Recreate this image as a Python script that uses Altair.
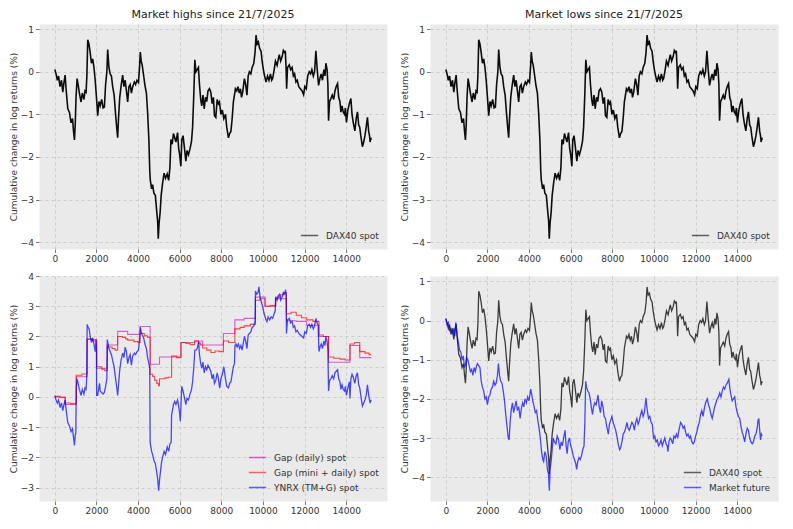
import altair as alt
import pandas as pd

# ---------------- data ----------------
DAX_X = [0, 60, 120, 180, 250, 320, 383, 440, 495, 540, 623, 700, 780, 850, 900, 943, 980, 1020, 1070, 1120,
         1180, 1262, 1320, 1400, 1450, 1502, 1540, 1582, 1640, 1700, 1760, 1820, 1880, 1940, 2000, 2061, 2120, 2180, 2250, 2320,
         2381, 2440, 2500, 2541, 2600, 2660, 2720, 2780, 2850, 2920, 2980, 3020, 3060, 3120, 3180, 3260, 3320, 3380, 3440, 3500,
         3560, 3620, 3680, 3740, 3820, 3880, 3950, 4020, 4070, 4107, 4150, 4200, 4270, 4330, 4400, 4458, 4520, 4560, 4586, 4650,
         4700, 4760, 4830, 4900, 4940, 4970, 5010, 5060, 5110, 5177, 5250, 5320, 5400, 5470, 5530, 5578, 5640, 5700, 5760, 5820,
         5897, 5950, 6000, 6057, 6100, 6160, 6220, 6296, 6350, 6420, 6500, 6568, 6620, 6680, 6727, 6780, 6840, 6900, 6950, 7010,
         7060, 7120, 7176, 7240, 7300, 7360, 7431, 7495, 7560, 7620, 7670, 7735, 7800, 7860, 7910, 7980, 8050, 8120, 8200, 8260,
         8341, 8400, 8460, 8519, 8580, 8630, 8677, 8740, 8800, 8860, 8920, 8970, 9027, 9108, 9170, 9230, 9290, 9348, 9420, 9480,
         9560, 9620, 9669, 9720, 9780, 9840, 9909, 9960, 10020, 10080, 10149, 10220, 10290, 10360, 10420, 10465, 10540, 10600, 10680, 10740,
         10786, 10850, 10920, 10980, 11040, 11074, 11110, 11138, 11180, 11266, 11330, 11400, 11460, 11520, 11586, 11650, 11720, 11800, 11880, 11953,
         12010, 12080, 12150, 12224, 12290, 12350, 12420, 12480, 12544, 12600, 12672, 12740, 12800, 12860, 12930, 12980, 13025, 13080, 13120, 13152,
         13200, 13264, 13330, 13400, 13460, 13520, 13585, 13640, 13700, 13744, 13800, 13860, 13920, 13960, 14013, 14080, 14150, 14224, 14280, 14340,
         14416, 14480, 14540, 14600, 14650, 14700, 14780, 14840, 14900, 14960, 15020, 15080, 15120, 15149, 15180, 15200]
DAX_Y = [0.05, -0.05, -0.2, -0.1, -0.35, -0.2, -0.48, -0.25, -0.08, -0.4, -0.87, -0.95, -1.2, -1.1, -1.4, -1.6, -1.25, -0.6, -0.16, -0.3,
         -0.5, -0.71, -0.5, -0.65, -0.45, -0.48, -0.1, 0.75, 0.65, 0.45, 0.2, 0.3, 0.1, -0.2, -0.6, -1.03, -0.7, -0.8, -0.65, -0.85,
         -0.83, -0.3, 0.0, 0.52, 0.1, -0.05, -0.1, -0.35, -0.55, -1.0, -1.35, -1.55, -1.1, -0.6, -0.35, -0.08, -0.35, -0.2, -0.45, -0.71,
         -0.35, -0.3, -0.5, -0.35, -0.24, -0.3, -0.2, -0.25, 0.1, 0.46, 0.25, 0.15, -0.1, -0.32, -0.5, -0.95, -1.6, -2.3, -2.54, -2.75,
         -2.65, -2.85, -2.9, -3.3, -3.5, -3.92, -3.55, -3.3, -2.9, -2.62, -2.38, -2.5, -2.4, -2.55, -2.25, -1.59, -1.7, -1.45, -1.55, -1.65,
         -1.43, -1.8, -1.95, -2.22, -1.6, -1.5, -1.75, -2.1, -1.85, -1.95, -1.8, -1.63, -1.3, -0.5, 0.28, 0.0, 0.05, 0.1, -0.3, -0.65,
         -0.8, -0.55, -0.87, -0.6, -0.7, -0.45, -0.4, -0.48, -0.75, -0.6, -1.03, -1.07, -0.65, -0.75, -0.71, -1.0, -0.9, -1.1, -1.0, -1.3,
         -1.55, -1.45, -1.4, -1.11, -0.7, -0.55, -0.4, -0.45, -0.35, -0.5, -0.4, -0.6, -0.48, -0.16, -0.3, -0.55, -0.1, 0.0, -0.05, 0.1,
         0.2, 0.45, 0.86, 0.65, 0.7, 0.55, 0.48, 0.25, 0.05, -0.1, -0.24, -0.1, -0.2, -0.05, -0.2, -0.16, 0.05, 0.25, 0.15, 0.3,
         0.4, 0.25, 0.35, 0.5, 0.45, 0.49, 0.1, -0.4, 0.1, 0.16, 0.05, 0.1, -0.1, -0.05, -0.24, -0.2, -0.35, -0.4, -0.45, -0.54,
         -0.35, -0.4, -0.1, 0.0, -0.05, 0.05, -0.1, 0.0, 0.49, 0.1, -0.32, -0.15, -0.05, -0.2, 0.05, -0.1, 0.2, 0.05, -0.3, -1.15,
         -0.7, -0.63, -0.55, -0.65, -0.45, -0.35, -0.28, -0.6, -0.7, -0.95, -0.8, -0.95, -1.0, -0.85, -1.19, -0.9, -0.75, -0.63, -1.0, -1.2,
         -1.39, -1.1, -0.94, -1.25, -1.3, -1.5, -1.76, -1.65, -1.5, -1.3, -1.07, -1.4, -1.5, -1.65, -1.55, -1.6]

MF_X = [0, 60, 120, 180, 250, 320, 380, 430, 480, 540, 600, 660, 720, 780, 840, 900, 950, 1000, 1060, 1120,
        1180, 1240, 1300, 1360, 1420, 1480, 1520, 1580, 1640, 1700, 1760, 1820, 1880, 1940, 2000, 2060, 2120, 2180, 2240, 2300,
        2360, 2420, 2480, 2528, 2580, 2640, 2700, 2760, 2820, 2880, 2940, 3000, 3040, 3090, 3140, 3200, 3260, 3320, 3380, 3440,
        3500, 3570, 3630, 3690, 3750, 3810, 3870, 3930, 3990, 4040, 4080, 4130, 4180, 4240, 4300, 4360, 4420, 4480, 4540, 4600,
        4660, 4700, 4760, 4820, 4880, 4930, 4976, 5010, 5060, 5110, 5160, 5220, 5290, 5350, 5420, 5480, 5540, 5600, 5660, 5728,
        5780, 5830, 5880, 5940, 6000, 6060, 6120, 6180, 6240, 6288, 6340, 6400, 6460, 6520, 6580, 6640, 6680, 6720, 6760, 6820,
        6880, 6940, 7000, 7050, 7100, 7160, 7220, 7280, 7312, 7370, 7430, 7490, 7550, 7610, 7670, 7730, 7808, 7860, 7920, 7980,
        8040, 8100, 8160, 8220, 8280, 8352, 8400, 8460, 8520, 8580, 8640, 8700, 8760, 8820, 8880, 8940, 9000, 9060, 9120, 9180,
        9240, 9300, 9360, 9420, 9480, 9540, 9616, 9680, 9740, 9800, 9860, 9920, 9980, 10040, 10100, 10160, 10220, 10280, 10340, 10400,
        10460, 10520, 10580, 10640, 10672, 10720, 10780, 10840, 10900, 10960, 11020, 11080, 11140, 11200, 11280, 11340, 11400, 11460, 11520, 11580,
        11640, 11700, 11760, 11820, 11880, 11940, 12000, 12060, 12120, 12180, 12240, 12300, 12360, 12420, 12480, 12560, 12620, 12680, 12740, 12800,
        12860, 12920, 12980, 13040, 13100, 13160, 13220, 13280, 13340, 13400, 13460, 13520, 13560, 13600, 13650, 13700, 13760, 13820, 13880, 13940,
        14000, 14060, 14120, 14180, 14240, 14300, 14360, 14420, 14480, 14540, 14600, 14660, 14720, 14780, 14840, 14900, 14960, 15000, 15040, 15080,
        15120, 15160, 15200]
MF_Y = [0.05, -0.1, -0.05, -0.25, -0.2, -0.35, -0.2, -0.4, -0.05, -0.35, -0.55, -0.75, -0.8, -1.0, -0.9, -1.2, -1.1, -0.95, -1.0, -1.15,
        -1.3, -1.25, -1.4, -1.2, -1.3, -1.15, -1.1, -1.15, -1.2, -1.55, -1.7, -1.8, -2.0, -1.95, -2.15, -1.95, -1.9, -1.75, -1.7, -1.55,
        -1.65, -1.6, -1.4, -1.1, -1.4, -1.55, -1.6, -1.8, -2.05, -2.4, -2.7, -3.0, -3.05, -2.6, -2.3, -2.1, -2.35, -2.2, -2.05, -2.3,
        -2.2, -2.5, -2.25, -2.1, -2.2, -2.0, -2.1, -1.95, -2.05, -1.9, -1.75, -1.9, -2.05, -2.2, -2.35, -2.3, -2.55, -2.75, -3.0, -3.35,
        -3.55, -3.6, -3.35, -3.45, -3.8, -3.9, -4.35, -3.8, -3.6, -3.3, -3.0, -3.1, -3.15, -2.95, -3.05, -3.3, -3.1, -3.2, -3.0, -2.8,
        -3.2, -3.4, -3.1, -3.0, -3.2, -3.3, -3.45, -3.55, -3.65, -3.8, -3.6, -3.5, -3.55, -3.45, -3.3, -3.2, -2.6, -1.55, -1.7, -1.8,
        -1.85, -2.0, -2.25, -2.4, -2.2, -2.1, -2.15, -2.0, -1.9, -2.2, -2.35, -2.05, -2.2, -2.45, -2.5, -2.7, -2.9, -2.65, -2.55, -2.45,
        -2.6, -2.7, -2.8, -2.95, -3.15, -3.3, -3.25, -3.1, -2.9, -2.85, -2.75, -2.6, -2.75, -2.8, -2.7, -2.6, -2.65, -2.8, -2.6, -2.5,
        -2.65, -2.55, -2.4, -2.3, -2.45, -2.35, -1.97, -2.3, -2.5, -2.45, -2.6, -2.65, -3.0, -2.95, -3.1, -3.05, -3.2, -3.15, -3.05, -3.2,
        -3.1, -3.0, -3.15, -3.2, -3.35, -3.1, -3.0, -3.05, -3.15, -2.95, -3.0, -2.9, -3.0, -2.8, -2.6, -2.65, -2.75, -2.7, -2.85, -2.95,
        -2.9, -3.0, -2.95, -3.1, -3.15, -3.1, -2.95, -2.85, -2.7, -2.6, -2.4, -2.3, -2.45, -2.25, -2.1, -2.0, -2.15, -2.25, -2.4, -2.5,
        -2.35, -2.2, -2.1, -2.0, -1.95, -1.85, -1.95, -1.8, -1.7, -1.75, -1.65, -1.6, -1.55, -1.5, -1.75, -1.9, -2.05, -2.0, -1.95, -2.2,
        -2.35, -2.45, -2.5, -2.7, -2.85, -2.95, -3.1, -2.9, -2.75, -2.8, -3.0, -3.1, -3.15, -3.1, -2.95, -2.9, -2.75, -2.55, -2.5, -2.8,
        -3.05, -2.9, -2.95]

YN_X = [0, 60, 120, 180, 250, 320, 383, 440, 495, 540, 623, 700, 780, 850, 900, 943, 980, 1010, 1030, 1070,
        1120, 1180, 1262, 1320, 1400, 1450, 1502, 1530, 1555, 1600, 1650, 1700, 1760, 1820, 1880, 1940, 1980, 2000, 2010, 2061,
        2120, 2150, 2180, 2250, 2320, 2381, 2440, 2500, 2520, 2560, 2600, 2660, 2720, 2780, 2850, 2920, 2980, 3020, 3060, 3120,
        3180, 3260, 3320, 3380, 3440, 3500, 3560, 3620, 3680, 3740, 3820, 3880, 3950, 4020, 4070, 4107, 4150, 4200, 4270, 4330,
        4400, 4458, 4520, 4560, 4580, 4650, 4700, 4760, 4830, 4900, 4940, 4990, 5030, 5080, 5130, 5177, 5250, 5320, 5400, 5470,
        5530, 5590, 5610, 5650, 5700, 5760, 5820, 5897, 5950, 6000, 6030, 6060, 6100, 6160, 6220, 6296, 6350, 6420, 6500, 6568,
        6620, 6680, 6727, 6780, 6840, 6912, 6950, 7010, 7060, 7120, 7176, 7240, 7300, 7360, 7431, 7495, 7560, 7620, 7670, 7735,
        7800, 7860, 7920, 7980, 8050, 8120, 8200, 8260, 8341, 8400, 8460, 8519, 8580, 8630, 8656, 8700, 8760, 8820, 8880, 8940,
        9000, 9060, 9108, 9170, 9230, 9290, 9348, 9420, 9480, 9560, 9620, 9640, 9700, 9760, 9808, 9860, 9920, 9980, 10040, 10100,
        10149, 10192, 10250, 10320, 10400, 10465, 10540, 10590, 10610, 10680, 10740, 10800, 10850, 10920, 10980, 11040, 11088, 11110, 11130, 11180,
        11266, 11330, 11400, 11460, 11520, 11586, 11650, 11720, 11800, 11880, 11953, 12010, 12080, 12150, 12224, 12290, 12350, 12420, 12480, 12544,
        12600, 12650, 12690, 12740, 12800, 12860, 12930, 12980, 13025, 13080, 13120, 13152, 13200, 13264, 13330, 13400, 13460, 13520, 13585, 13640,
        13700, 13744, 13800, 13860, 13920, 13960, 14013, 14080, 14150, 14180, 14224, 14280, 14340, 14416, 14480, 14540, 14600, 14650, 14700, 14780,
        14840, 14900, 14960, 15020, 15080, 15120, 15149, 15180, 15200]
YN_Y = [0.05, -0.1, -0.2, -0.1, -0.35, -0.2, -0.45, -0.25, -0.1, -0.4, -0.85, -0.95, -1.15, -1.05, -1.35, -1.6, -1.25, -1.2, 0.3, 0.6,
        0.45, 0.25, 0.05, 0.25, 0.1, 0.3, 0.25, 0.6, 2.4, 2.3, 2.25, 2.0, 1.8, 1.95, 1.75, 1.5, 1.9, 1.5, 0.05, 0.05,
        0.35, 0.45, 0.2, 0.15, 0.1, 0.15, 0.35, 0.6, 1.9, 1.75, 1.6, 1.5, 1.4, 1.2, 1.0, 0.6, 0.3, 0.05, 0.4, 0.9,
        1.2, 1.45, 1.3, 1.65, 1.5, 1.1, 1.3, 1.4, 1.05, 1.35, 1.45, 1.4, 1.5, 1.55, 1.9, 2.3, 2.15, 2.05, 1.95, 1.75,
        1.6, 1.3, 1.1, 0.95, -1.5, -1.8, -1.9, -2.1, -2.2, -2.5, -2.7, -3.1, -2.75, -2.45, -2.15, -2.0, -1.8, -1.9, -1.65, -1.8,
        -1.55, -1.5, -0.6, -0.45, -0.25, -0.15, -0.25, -0.1, -0.3, -0.55, -0.8, -0.3, 0.35, 0.2, 0.0, -0.25, -0.05, -0.1, 0.1, 0.25,
        0.5, 1.0, 1.55, 1.55, 1.6, 1.83, 1.4, 1.1, 0.95, 1.15, 0.8, 1.0, 0.9, 1.05, 0.95, 0.85, 0.6, 0.75, 0.45, 0.55,
        0.8, 0.6, 0.29, 0.6, 0.75, 1.0, 0.6, 0.35, 0.3, 0.45, 0.5, 0.75, 1.0, 1.1, 1.7, 1.75, 1.65, 1.75, 1.6, 1.7,
        1.55, 1.8, 2.0, 1.85, 1.6, 2.05, 2.1, 2.15, 2.3, 2.35, 2.5, 3.5, 3.4, 3.45, 3.64, 3.3, 3.15, 3.0, 2.8, 2.65,
        2.55, 2.49, 2.65, 2.55, 2.65, 2.6, 2.75, 2.85, 3.3, 3.2, 3.35, 3.4, 3.2, 3.3, 3.45, 3.4, 3.55, 3.3, 2.1, 2.55,
        2.6, 2.45, 2.5, 2.3, 2.35, 2.15, 2.2, 2.1, 2.05, 2.0, 1.95, 2.15, 2.1, 2.35, 2.4, 2.3, 2.4, 2.25, 2.35, 2.6,
        2.45, 2.4, 1.5, 1.65, 1.75, 1.6, 1.85, 1.7, 2.0, 1.85, 1.55, 0.2, 0.55, 0.6, 0.7, 0.6, 0.8, 0.85, 0.9, 0.6,
        0.5, 0.25, 0.4, 0.25, 0.2, 0.35, 0.05, 0.3, 0.5, -0.05, 0.6, 0.75, 0.65, 0.45, 0.7, 0.8, 0.4, 0.3, 0.05, -0.3,
        -0.2, -0.1, 0.05, 0.4, 0.05, -0.1, -0.2, -0.1, -0.15]

GAPD_X = [0, 500, 1030, 1555, 2010, 2520, 3020, 3500, 4100, 4580, 5030, 5610, 6060, 6720, 7100, 8100, 8650, 9100, 9640,
          10100, 10610, 11130, 11600, 12100, 12690, 13150, 14180, 14650, 15200]
GAPD_Y = [0.0, -0.25, 0.67, 1.9, 0.95, 1.72, 2.17, 2.07, 2.33, 1.08, 1.32, 1.32, 1.8, 1.85, 1.72, 2.1, 2.55, 2.6, 3.3,
          3.0, 3.25, 2.52, 2.5, 2.37, 2.0, 1.15, 1.7, 1.3, 1.3]

GAPM_X = [0, 250, 500, 750, 1030, 1300, 1555, 1800, 2010, 2250, 2400, 2520, 2750, 2900, 3020, 3250, 3400, 3500, 3800, 4000,
          4100, 4300, 4450, 4580, 4700, 4800, 4900, 4980, 5030, 5300, 5450, 5610, 5850, 6060, 6300, 6500, 6720, 6900, 7000, 7100,
          7300, 7500, 7700, 7900, 8100, 8350, 8650, 8900, 9100, 9400, 9640, 9850, 10100, 10350, 10610, 10850, 11000, 11130, 11350, 11600,
          11850, 12100, 12400, 12690, 12900, 13150, 13400, 13700, 13950, 14180, 14400, 14650, 14900, 15100, 15200]
GAPM_Y = [0.02, -0.02, -0.2, -0.22, 0.72, 0.76, 1.92, 1.85, 1.0, 0.92, 0.87, 1.65, 1.6, 1.55, 2.0, 1.97, 1.92, 1.88, 1.83, 1.8,
          2.1, 2.02, 1.97, 0.75, 0.68, 0.55, 0.45, 0.37, 0.6, 0.63, 0.65, 1.35, 1.3, 1.8, 1.77, 1.73, 1.85, 1.78, 1.72, 1.62,
          1.55, 1.47, 1.52, 1.5, 1.85, 1.8, 2.25, 2.3, 2.35, 2.4, 3.2, 3.25, 3.0, 3.02, 3.3, 3.38, 3.45, 2.75, 2.8, 2.7,
          2.62, 2.55, 2.5, 2.05, 2.0, 1.32, 1.28, 1.25, 1.22, 1.75, 1.8, 1.5, 1.45, 1.4, 1.4]

X_TICKS = [0, 2000, 4000, 6000, 8000, 10000, 12000, 14000]
Y_TICKS_TOP = [-4, -3, -2, -1, 0, 1]
Y_TICKS_BL = [-3, -2, -1, 0, 1, 2, 3, 4]
Y_TICKS_BR = [-4, -3, -2, -1, 0, 1]

YTITLE = "Cumulative change in log returns (%)"
W, H = 348, 225


def frame(xs, ys, name):
    return pd.DataFrame({"x": xs, "y": ys, "series": name})


def enc_x():
    return alt.X("x:Q", scale=alt.Scale(domain=[-760, 15960], nice=False, zero=False),
                 axis=alt.Axis(values=X_TICKS, format="d", title=None))


def enc_y(dom, ticks):
    return alt.Y("y:Q", scale=alt.Scale(domain=dom, nice=False, zero=False),
                 axis=alt.Axis(values=ticks, format="d", title=YTITLE))


def enc_color(domain, rng):
    return alt.Color("series:N", sort=domain,
                     scale=alt.Scale(domain=domain, range=rng),
                     legend=alt.Legend(orient="bottom-right", title=None, symbolOpacity=0.6))


def top_panel(title):
    d = frame(DAX_X, DAX_Y, "DAX40 spot")
    return alt.Chart(d, title=title).mark_line(strokeWidth=1.6, opacity=0.95).encode(
        x=enc_x(), y=enc_y([-4.16, 1.12], Y_TICKS_TOP),
        color=enc_color(["DAX40 spot"], ["#000000"]),
    ).properties(width=W, height=H)


tl = top_panel("Market highs since 21/7/2025")
tr = top_panel("Market lows since 21/7/2025")

bl_dom = ["Gap (daily) spot", "Gap (mini + daily) spot", "YNRX (TM+G) spot"]
bl_rng = ["#bf00bf", "#ff0000", "#0000ff"]
bl_y = enc_y([-3.44, 4.0], Y_TICKS_BL)
bl_purple = alt.Chart(frame(GAPD_X, GAPD_Y, bl_dom[0])).mark_line(
    interpolate="step-after", strokeWidth=1.1, opacity=0.6).encode(
    x=enc_x(), y=bl_y, color=enc_color(bl_dom, bl_rng))
bl_red = alt.Chart(frame(GAPM_X, GAPM_Y, bl_dom[1])).mark_line(
    interpolate="step-after", strokeWidth=1.1, opacity=0.7).encode(
    x=enc_x(), y=bl_y, color=enc_color(bl_dom, bl_rng))
bl_blue = alt.Chart(frame(YN_X, YN_Y, bl_dom[2])).mark_line(
    strokeWidth=1.3, opacity=0.7).encode(
    x=enc_x(), y=bl_y, color=enc_color(bl_dom, bl_rng))
bl = alt.layer(bl_purple, bl_red, bl_blue).properties(width=W, height=H)

br_dom = ["DAX40 spot", "Market future"]
br_rng = ["#000000", "#0000ff"]
br_y = enc_y([-4.61, 1.14], Y_TICKS_BR)
br_black = alt.Chart(frame(DAX_X, DAX_Y, br_dom[0])).mark_line(
    strokeWidth=1.3, opacity=0.75).encode(
    x=enc_x(), y=br_y, color=enc_color(br_dom, br_rng))
br_blue = alt.Chart(frame(MF_X, MF_Y, br_dom[1])).mark_line(
    strokeWidth=1.3, opacity=0.7).encode(
    x=enc_x(), y=br_y, color=enc_color(br_dom, br_rng))
br = alt.layer(br_black, br_blue).properties(width=W, height=H)

chart = alt.concat(
    tl, tr, bl, br, columns=2, spacing={"row": 27, "column": 43}, bounds="flush"
).resolve_scale(
    color="independent"
).properties(
    padding=0, background="white"
).configure(
    font="DejaVu Sans"
).configure_view(
    fill="#eaeaea", stroke="transparent"
).configure_axis(
    grid=True, gridDash=[3, 3], gridColor="#c4c4c4", gridWidth=0.8,
    domain=False, tickColor="#555555", tickSize=3.5, tickWidth=0.8,
    labelFontSize=9, labelColor="#333333", labelFont="DejaVu Sans", labelPadding=2,
    titleFontSize=9, titleFontWeight="normal", titleColor="#333333", titleFont="DejaVu Sans",
    titlePadding=2,
).configure_title(
    fontSize=11, fontWeight="normal", font="DejaVu Sans", color="#222222", offset=4
).configure_legend(
    labelFontSize=9, labelFont="DejaVu Sans", labelColor="#333333",
    symbolType="stroke", symbolSize=300, symbolStrokeWidth=1.5,
    rowPadding=-4, padding=0, offset=8, labelOffset=7,
)

chart.save("out.html", embed_options={"renderer": "svg", "actions": False})
